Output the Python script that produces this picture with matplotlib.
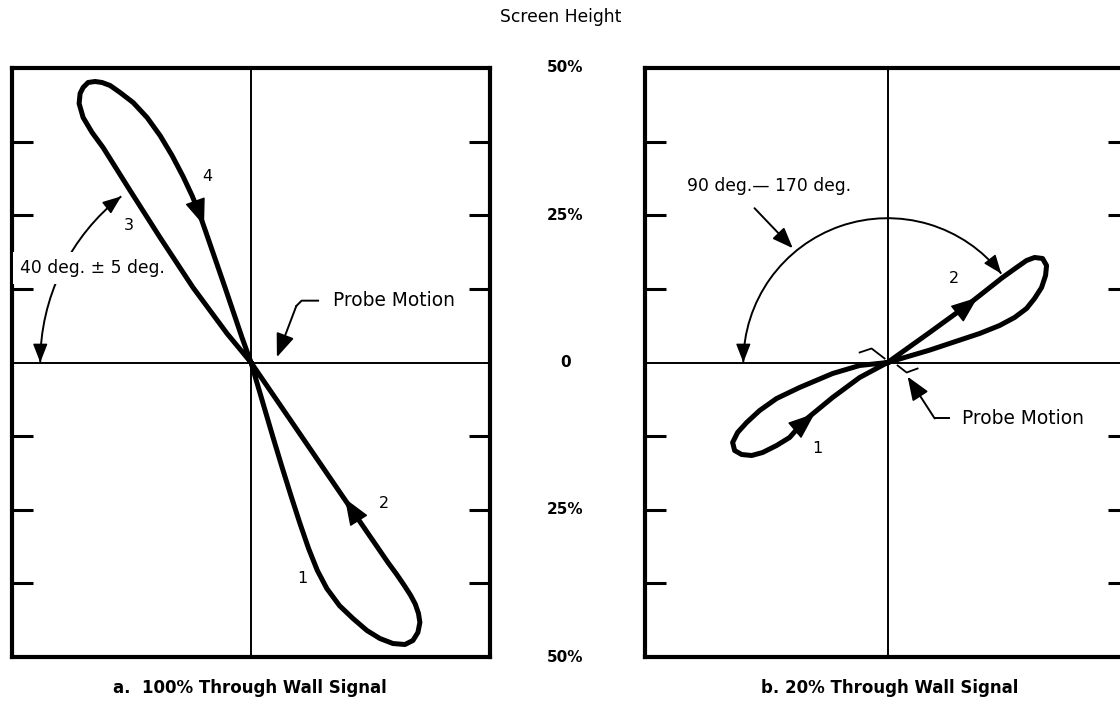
import numpy as np
import matplotlib.pyplot as plt
from matplotlib.patches import Arc

# screen position in % of screen height (horizontal, vertical)
# a. 100% through wall signal, traced from the origin: up side 3, down side 4,
# then down side 1 and back up side 2
sig_a_x = [0, -4.07, -9.85, -15.45, -20.54, -25.13, -27.0, -28.52, -29.2, -29.03,
           -28.52, -27.67, -26.49, -25.3, -23.94, -22.24, -20.03, -17.66, -15.45, -13.41,
           -11.54, -10.02, -8.83, -7.64, -4.41, -1.53, 0,
           1.3, 2.4, 3.8, 5.24, 6.78, 8.26, 9.78, 11.27, 12.88, 15.05,
           17.32, 19.69, 21.9, 24.11, 26.15, 27.5, 28.35, 28.69, 28.45, 27.9,
           27.1, 26.0, 24.7, 23.3, 19.69, 13.92, 9.51, 4.92, 0]
sig_a_y = [0, 4.92, 12.73, 21.22, 29.2, 36.5, 39.05, 41.6, 43.97, 45.67,
           46.69, 47.54, 47.71, 47.54, 47.03, 45.84, 44.14, 41.6, 38.54, 35.14,
           31.58, 28.35, 25.47, 22.07, 12.73, 4.24, 0,
           -4.41, -8.15, -12.9, -17.66, -22.58, -27.16, -31.58, -35.31, -38.37, -41.3,
           -43.46, -45.5, -46.86, -47.71, -47.88, -47.2, -45.84, -44.14, -42.6, -41.0,
           -39.5, -37.8, -35.9, -34.0, -28.75, -20.32, -13.88, -7.18, 0]

# b. 20% through wall signal
sig_b_x = [0, -4.75, -9.34, -14.94, -18.85, -21.73, -23.94, -25.47, -26.32, -25.98,
           -24.79, -23.09, -21.22, -18.85, -16.64, -14.09, -9.34, -4.75, 0,
           7.13, 13.92, 19.52, 21.9, 23.6, 24.96, 26.32, 27.0, 26.83, 26.15,
           24.96, 23.6, 21.56, 19.02, 15.62, 11.04, 7.13, 2.89, 0]
sig_b_y = [0, -0.51, -1.87, -4.24, -6.11, -8.15, -10.19, -11.88, -13.58, -14.94,
           -15.62, -15.79, -15.28, -14.09, -12.73, -9.85, -5.94, -2.55, 0,
           5.09, 10.02, 14.43, 16.13, 17.32, 17.83, 17.66, 16.47, 14.77, 12.73,
           10.87, 9.17, 7.64, 6.28, 4.92, 3.4, 2.1, 0.85, 0]

# direction arrows on the traces: (tip, tail)
arrows_a = [((-7.98, 23.26), (-9.51, 27.5)), ((15.96, -23.09), (18.51, -27.16))]
arrows_b = [((-12.39, -8.66), (-15.79, -11.54)), ((15.28, 11.04), (11.88, 8.32))]

# trace numbers
nums_a = [("4", -7.5, 31.5), ("3", -20.7, 23.3), ("2", 22.6, -24.0), ("1", 8.7, -36.6)]
nums_b = [("2", 11.2, 14.3), ("1", -12.0, -14.6)]

# screen height scale between panels
scale_pos = [50, 25, 0, -25, -50]
scale_lab = ["50%", "25%", "0", "25%", "50%"]
tick_pos = [-37.5, -25, -12.5, 12.5, 25, 37.5]

# phase angle annotations (radius in %, start/end angle in deg)
arc_a = (35.8, 128, 180)
arc_b = (24.5, 38, 180)

LW = 3.6


def head(ax, tip, tail, scale=16, lw=1, z=6):
    ax.annotate('', xy=tip, xytext=tail, zorder=z,
                arrowprops=dict(arrowstyle='-|>,head_length=0.9,head_width=0.35',
                                color='black', lw=lw, mutation_scale=scale,
                                shrinkA=0, shrinkB=0))


def angle_arc(ax, r, t1, t2):
    ax.add_patch(Arc((0, 0), 2 * r, 2 * r, theta1=t1, theta2=t2, color='black',
                     lw=1.4, zorder=2))
    for t, sgn in ((t1, -1), (t2, 1)):
        a = np.radians(t)
        tip = np.array([r * np.cos(a), r * np.sin(a)])
        d = sgn * np.array([-np.sin(a), np.cos(a)])
        head(ax, tuple(tip), tuple(tip - 2.0 * d), scale=13)


def screen(ax, xlim):
    ax.set_xlim(*xlim)
    ax.set_ylim(-50, 50)
    ax.set_xticks([])
    ax.set_yticks(tick_pos)
    ax.set_yticklabels([])
    ax.tick_params(axis='y', direction='in', length=15, width=2.2, left=True, right=True)
    for s in ax.spines.values():
        s.set_linewidth(3)
    ax.axhline(0, color='black', lw=1.4, zorder=1)
    ax.axvline(0, color='black', lw=1.4, zorder=1)


fig = plt.figure(figsize=(11.2, 7.05), dpi=100)
plt.rcParams['font.family'] = ['DejaVu Sans']

axa = fig.add_axes([12 / 1120, 48 / 705, 478 / 1120, 589 / 705])
axb = fig.add_axes([645 / 1120, 48 / 705, 484 / 1120, 589 / 705])
screen(axa, (-40.6, 40.6))
screen(axb, (-41.2, 41.0))

# signal a
axa.plot(sig_a_x, sig_a_y, color='black', lw=LW, solid_joinstyle='round', zorder=5)
for tip, tail in arrows_a:
    head(axa, tip, tail, scale=19)
for s, x, y in nums_a:
    axa.text(x, y, s, fontsize=11.5, ha='center', va='center')

angle_arc(axa, *arc_a)
axa.text(-27.0, 16.0, "40 deg. \u00b1 5 deg.", fontsize=12.3, ha='center', va='center',
         bbox=dict(facecolor='white', edgecolor='none', pad=5), zorder=4)

axa.plot([11.4, 8.6, 7.7], [10.5, 10.5, 9.6], color='black', lw=1.4)
head(axa, (4.4, 0.9), (7.7, 9.6), scale=16, lw=1.4)
axa.text(13.9, 10.5, "Probe Motion", fontsize=13.4, ha='left', va='center')

# signal b
axb.plot(sig_b_x, sig_b_y, color='black', lw=LW, solid_joinstyle='round', zorder=5)
for tip, tail in arrows_b:
    head(axb, tip, tail, scale=19)
for s, x, y in nums_b:
    axb.text(x, y, s, fontsize=11.5, ha='center', va='center')

angle_arc(axb, *arc_b)
axb.text(-20.2, 30.0, "90 deg.\u2014 170 deg.", fontsize=12.3, ha='center', va='center')
head(axb, (-16.1, 19.4), (-22.6, 26.2), scale=14, lw=1.4)

# probe motion marks
axb.plot([-4.75, -2.72, -0.51], [1.70, 2.38, 0.68], color='black', lw=1.3)
axb.plot([1.70, 3.23, 5.09], [-0.51, -1.70, -1.02], color='black', lw=1.3)
axb.plot([10.5, 8.0], [-9.5, -9.5], color='black', lw=1.4)
head(axb, (3.4, -2.4), (8.0, -9.5), scale=16, lw=1.4)
axb.text(12.6, -9.5, "Probe Motion", fontsize=13.4, ha='left', va='center')

# scale between panels
for y, s in zip(scale_pos, scale_lab):
    axa.text(53.4, y, s, fontsize=11, fontweight='bold', ha='center', va='center',
             clip_on=False)

fig.text(561 / 1120, 1 - 17 / 705, "Screen Height", fontsize=12.3, ha='center', va='center')
fig.text(250 / 1120, 1 - 688 / 705, "a.  100% Through Wall Signal", fontsize=12,
         fontweight='bold', ha='center', va='center')
fig.text(890 / 1120, 1 - 688 / 705, "b. 20% Through Wall Signal", fontsize=12,
         fontweight='bold', ha='center', va='center')

fig.savefig("out.png", dpi=100)
